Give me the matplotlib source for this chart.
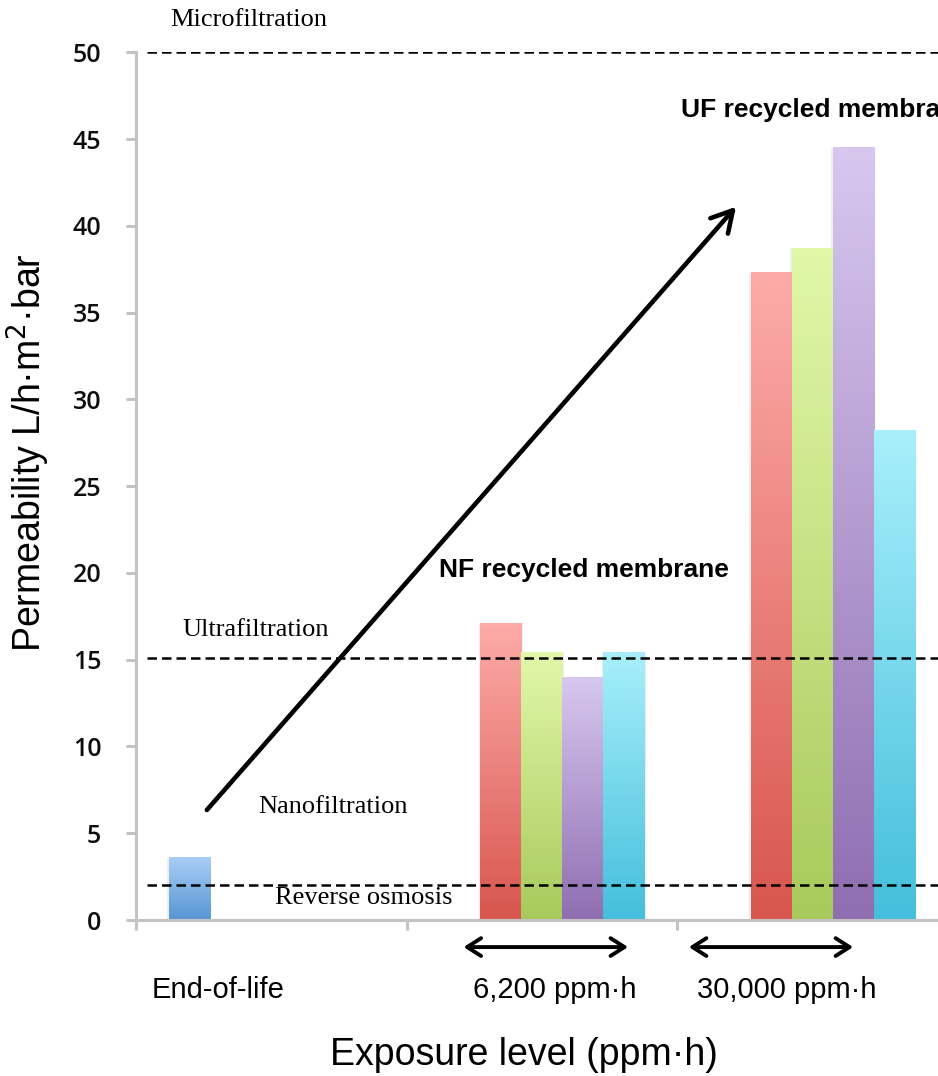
import matplotlib
matplotlib.use("Agg")
import matplotlib.pyplot as plt
from matplotlib.colors import to_rgb
import numpy as np

# permeability per exposure level, one list per membrane series
categories = ["End-of-life", "6,200 ppm·h", "30,000 ppm·h"]
end_of_life = [3.6, 0, 0]
sample_a = [0, 17.1, 37.3]
sample_b = [0, 15.4, 38.7]
sample_c = [0, 14.0, 44.5]
sample_d = [0, 15.4, 28.2]
series = [end_of_life, sample_a, sample_b, sample_c, sample_d]

# (top colour, bottom colour) for the gradient fill of each series
grad_colors = [
    ("#a9cdf6", "#5796d4"),
    ("#fdaba8", "#d8564e"),
    ("#e1f7a9", "#a8ca5c"),
    ("#d7c7ef", "#8f6eb1"),
    ("#a8effb", "#44bfdc"),
]

# filtration class thresholds (dashed lines) and their names
thresholds = [50, 15.1, 2.0]
regimes = ["Microfiltration", "Ultrafiltration", "Nanofiltration", "Reverse osmosis"]

SERIF = "Liberation Serif"
SANS = "Liberation Sans"

fig = plt.figure(figsize=(9.38, 10.76), dpi=100)
# right edge runs a little past the figure, the last group is cut off
ax = fig.add_axes([136/938, 156/1076, 811.5/938, 867.7/1076])

w = 0.1516
x = np.arange(len(categories)) + 0.5
for i, vals in enumerate(series):
    bars = ax.bar(x + (i - 2) * w, vals, width=w, color="none", edgecolor="none", zorder=2)
    top, bot = to_rgb(grad_colors[i][0]), to_rgb(grad_colors[i][1])
    t = np.linspace(0, 1, 64)[:, None]
    grad = (np.array(bot)[None, :] * (1 - t) + np.array(top)[None, :] * t)[:, None, :]
    for b in bars:
        h = b.get_height()
        if h <= 0:
            continue
        x0 = b.get_x()
        # faint shadow on the sides of the bar
        ax.add_patch(plt.Rectangle((x0 - 0.005, 0), b.get_width() + 0.01, h,
                                   color="#c8c8c8", alpha=0.3, lw=0, zorder=1.5))
        ax.imshow(grad, extent=[x0, x0 + b.get_width(), 0, h], origin="lower",
                  aspect="auto", interpolation="bilinear", zorder=2)

for yv in thresholds:
    ax.axhline(yv, xmin=0.013, xmax=1, color="black", lw=1.8, ls=(0, (3.8, 2.0)), zorder=3)

ax.set_xlim(0, 3)
ax.set_ylim(0, 50)

# axes styling
for s in ["top", "right"]:
    ax.spines[s].set_visible(False)
for s in ["left", "bottom"]:
    ax.spines[s].set_color("#c3c3c3")
    ax.spines[s].set_linewidth(2.2)
ax.set_yticks(np.arange(0, 51, 5))
ax.set_xticks([0, 1, 2, 3])
ax.set_xticklabels([])
ax.tick_params(axis="both", color="#c3c3c3", width=2.2, length=7)
ax.tick_params(axis="y", pad=18, labelsize=18, labelcolor="#0d0d0d")
for lab in ax.get_yticklabels():
    lab.set_fontfamily("Open Sans")
    lab.set_fontweight("semibold")

# regime labels
txt_kw = dict(fontsize=19, family=SERIF, ha="center", va="center")
fig.text(249/938, 1 - 20/1076, regimes[0], **txt_kw)
fig.text(256/938, 1 - 630/1076, regimes[1], **txt_kw)
fig.text(333/938, 1 - 807/1076, regimes[2], **txt_kw)
fig.text(364/938, 1 - 898/1076, regimes[3], **txt_kw)

fig.text(439/938, 1 - 570/1076, "NF recycled membrane", fontsize=19, family=SANS,
         weight="bold", ha="left", va="center")
fig.text(681/938, 1 - 110/1076, "UF recycled membrane", fontsize=19, family=SANS,
         weight="bold", ha="left", va="center")

# big trend arrow
ax.annotate("", xy=(2.218, 41.1), xytext=(0.262, 6.34),
            arrowprops=dict(arrowstyle="->,head_length=0.75,head_width=0.42",
                            lw=3.3, color="black", mutation_scale=20,
                            shrinkA=0, shrinkB=0), zorder=4)

# exposure ranges under the axis
for x0, x1 in [(1.211, 1.819), (2.044, 2.651)]:
    ax.annotate("", xy=(x1, -1.56), xytext=(x0, -1.56), annotation_clip=False,
                arrowprops=dict(arrowstyle="<->,head_length=0.5,head_width=0.32",
                                lw=2.8, color="black", mutation_scale=20,
                                shrinkA=0, shrinkB=0))

label_x = [218, 555, 787]
for lx, name in zip(label_x, categories):
    fig.text(lx/938, 1 - 990/1076, name, fontsize=21, family=SANS, ha="center", va="center")

fig.text(524/938, 1 - 1055/1076, "Exposure level (ppm·h)", fontsize=27, family=SANS,
         ha="center", va="center")
fig.text(28/938, 1 - 453/1076, "Permeability L/h·m$^2$·bar", fontsize=27, family=SANS,
         rotation=90, ha="center", va="center")

fig.savefig("out.png", dpi=100)
